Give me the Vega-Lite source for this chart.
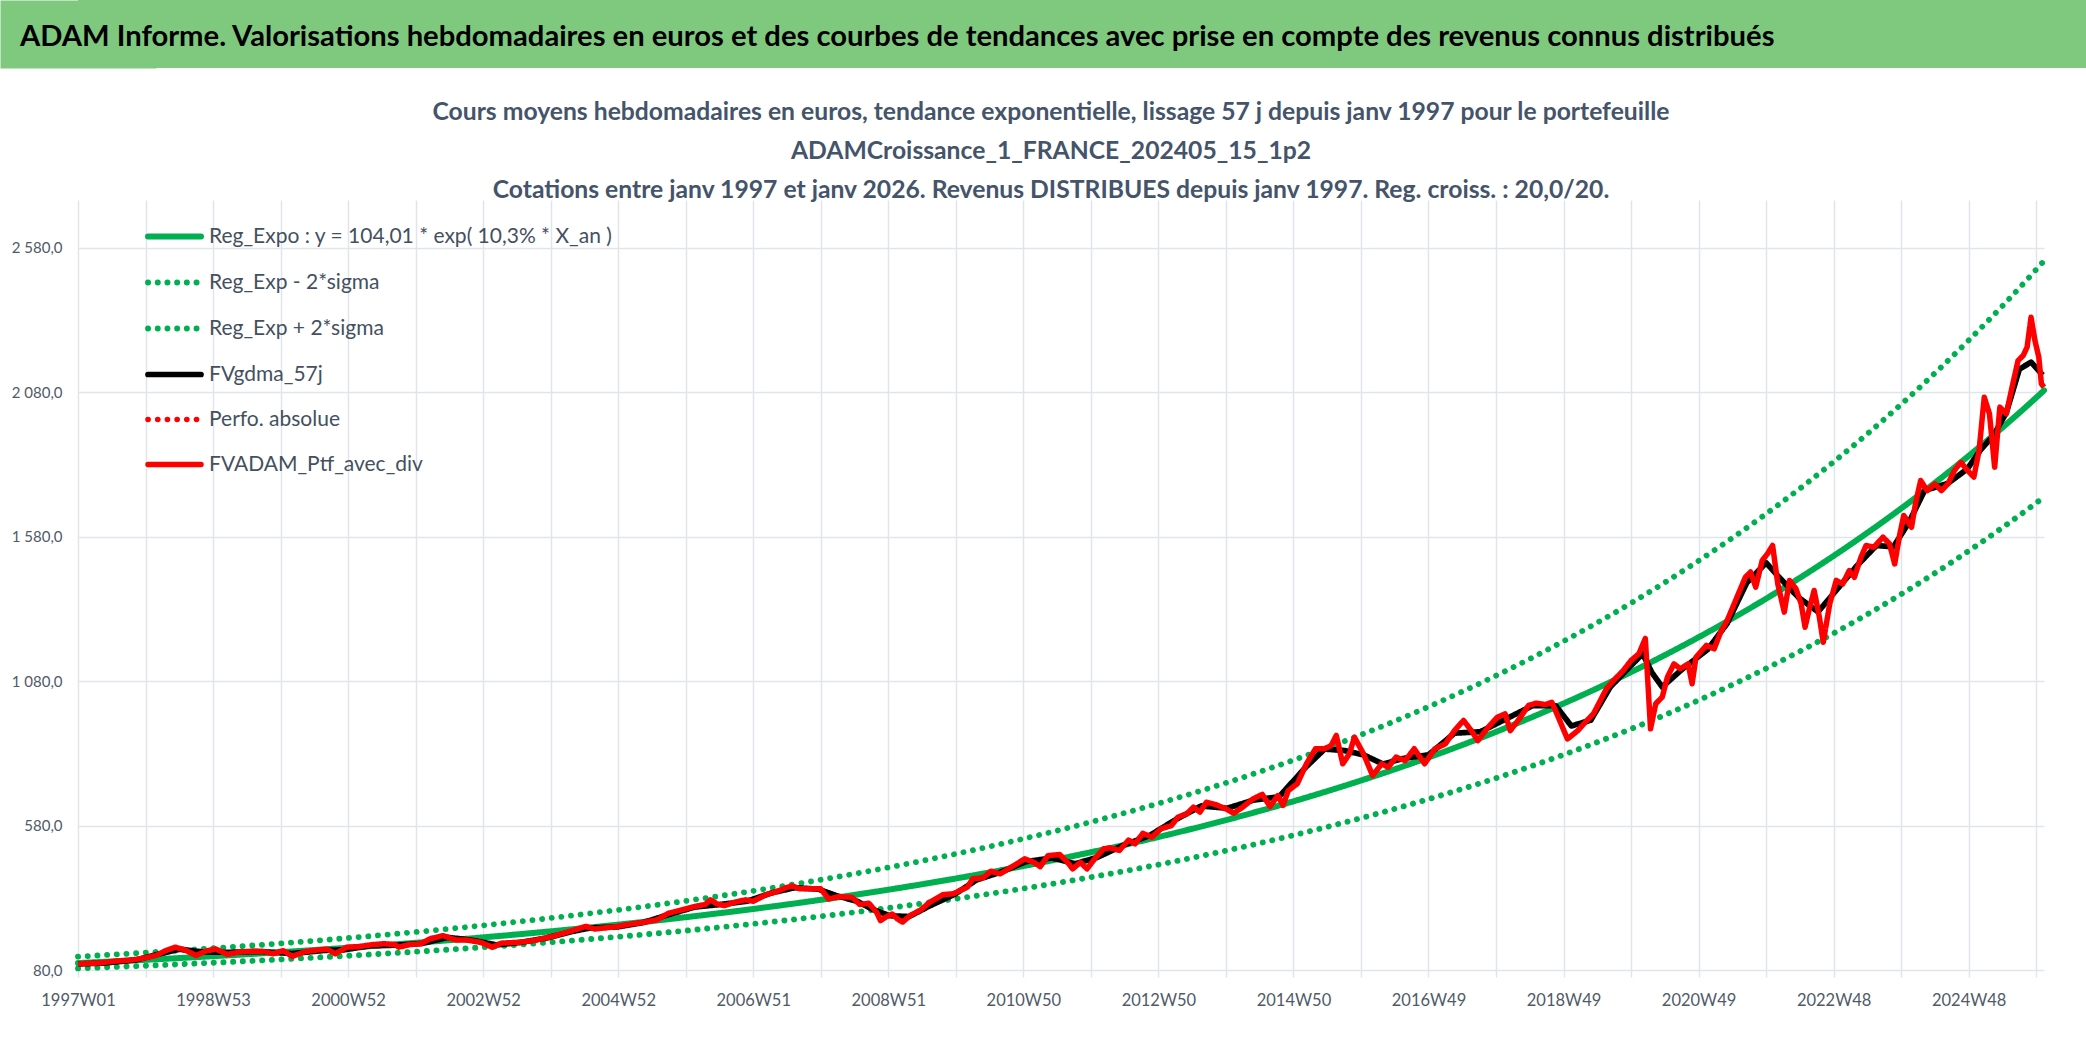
{
  "$schema": "https://vega.github.io/schema/vega-lite/v6.json",
  "description": "ADAM Informe - valorisations hebdomadaires et courbes de tendance",
  "background": "white",
  "padding": 0,
  "columns": 1,
  "spacing": 32,
  "config": {"view": {"stroke": null}, "font": "Lato"},
  "datasets": {
    "tendance": [
      {"semaine": 0, "reg": 104.01, "bas": 85.6, "haut": 126.4},
      {"semaine": 52, "reg": 115.3, "bas": 94.9, "haut": 140.1},
      {"semaine": 104, "reg": 127.8, "bas": 105.2, "haut": 155.3},
      {"semaine": 156, "reg": 141.67, "bas": 116.6, "haut": 172.1},
      {"semaine": 208, "reg": 157.04, "bas": 129.3, "haut": 190.8},
      {"semaine": 260, "reg": 174.07, "bas": 143.3, "haut": 211.5},
      {"semaine": 312, "reg": 192.95, "bas": 158.8, "haut": 234.4},
      {"semaine": 364, "reg": 213.88, "bas": 176.0, "haut": 259.9},
      {"semaine": 416, "reg": 237.08, "bas": 195.1, "haut": 288.1},
      {"semaine": 468, "reg": 262.81, "bas": 216.3, "haut": 319.3},
      {"semaine": 520, "reg": 291.34, "bas": 239.8, "haut": 354.0},
      {"semaine": 572, "reg": 322.94, "bas": 265.8, "haut": 392.4},
      {"semaine": 624, "reg": 357.98, "bas": 294.6, "haut": 434.9},
      {"semaine": 676, "reg": 396.82, "bas": 326.6, "haut": 482.1},
      {"semaine": 728, "reg": 439.87, "bas": 362.0, "haut": 534.4},
      {"semaine": 780, "reg": 487.58, "bas": 401.3, "haut": 592.4},
      {"semaine": 832, "reg": 540.48, "bas": 444.8, "haut": 656.7},
      {"semaine": 884, "reg": 599.11, "bas": 493.1, "haut": 727.9},
      {"semaine": 936, "reg": 664.11, "bas": 546.6, "haut": 806.9},
      {"semaine": 988, "reg": 736.15, "bas": 605.9, "haut": 894.4},
      {"semaine": 1040, "reg": 816.06, "bas": 671.7, "haut": 991.5},
      {"semaine": 1092, "reg": 904.59, "bas": 744.5, "haut": 1099.1},
      {"semaine": 1144, "reg": 1002.76, "bas": 825.3, "haut": 1218.4},
      {"semaine": 1196, "reg": 1111.52, "bas": 914.8, "haut": 1350.5},
      {"semaine": 1248, "reg": 1232.15, "bas": 1014.1, "haut": 1497.0},
      {"semaine": 1300, "reg": 1365.79, "bas": 1124.1, "haut": 1659.4},
      {"semaine": 1352, "reg": 1513.94, "bas": 1246.0, "haut": 1839.4},
      {"semaine": 1404, "reg": 1678.19, "bas": 1381.2, "haut": 2039.0},
      {"semaine": 1456, "reg": 1860.24, "bas": 1531.1, "haut": 2260.2},
      {"semaine": 1508, "reg": 2062.04, "bas": 1697.2, "haut": 2505.4},
      {"semaine": 1514, "reg": 2086.9, "bas": 1717.6, "haut": 2535.6}
    ],
    "lisse": [
      {"semaine": 0, "lisse": 101}, {"semaine": 20, "lisse": 104}, {"semaine": 45, "lisse": 115},
      {"semaine": 65, "lisse": 138}, {"semaine": 78, "lisse": 152}, {"semaine": 95, "lisse": 143},
      {"semaine": 115, "lisse": 141}, {"semaine": 140, "lisse": 144}, {"semaine": 165, "lisse": 137},
      {"semaine": 190, "lisse": 148}, {"semaine": 205, "lisse": 150}, {"semaine": 225, "lisse": 164},
      {"semaine": 245, "lisse": 166}, {"semaine": 265, "lisse": 172}, {"semaine": 285, "lisse": 193},
      {"semaine": 305, "lisse": 182}, {"semaine": 322, "lisse": 167}, {"semaine": 340, "lisse": 175},
      {"semaine": 360, "lisse": 190}, {"semaine": 380, "lisse": 213}, {"semaine": 395, "lisse": 226},
      {"semaine": 415, "lisse": 229}, {"semaine": 435, "lisse": 244}, {"semaine": 455, "lisse": 272},
      {"semaine": 475, "lisse": 298}, {"semaine": 495, "lisse": 307}, {"semaine": 515, "lisse": 318},
      {"semaine": 535, "lisse": 348}, {"semaine": 552, "lisse": 365}, {"semaine": 570, "lisse": 360},
      {"semaine": 585, "lisse": 336}, {"semaine": 600, "lisse": 318}, {"semaine": 612, "lisse": 290},
      {"semaine": 625, "lisse": 268}, {"semaine": 640, "lisse": 265}, {"semaine": 655, "lisse": 300},
      {"semaine": 675, "lisse": 342}, {"semaine": 692, "lisse": 392}, {"semaine": 710, "lisse": 418},
      {"semaine": 730, "lisse": 455}, {"semaine": 750, "lisse": 468}, {"semaine": 768, "lisse": 448},
      {"semaine": 785, "lisse": 470}, {"semaine": 805, "lisse": 512}, {"semaine": 825, "lisse": 545},
      {"semaine": 845, "lisse": 600}, {"semaine": 865, "lisse": 648}, {"semaine": 885, "lisse": 640},
      {"semaine": 905, "lisse": 668}, {"semaine": 925, "lisse": 680}, {"semaine": 945, "lisse": 780},
      {"semaine": 960, "lisse": 845}, {"semaine": 975, "lisse": 840}, {"semaine": 990, "lisse": 825},
      {"semaine": 1005, "lisse": 793}, {"semaine": 1020, "lisse": 812}, {"semaine": 1040, "lisse": 825},
      {"semaine": 1060, "lisse": 900}, {"semaine": 1080, "lisse": 905}, {"semaine": 1100, "lisse": 950},
      {"semaine": 1120, "lisse": 995}, {"semaine": 1138, "lisse": 995}, {"semaine": 1150, "lisse": 925},
      {"semaine": 1165, "lisse": 945}, {"semaine": 1180, "lisse": 1060}, {"semaine": 1195, "lisse": 1130},
      {"semaine": 1205, "lisse": 1175}, {"semaine": 1212, "lisse": 1110}, {"semaine": 1220, "lisse": 1060},
      {"semaine": 1235, "lisse": 1120}, {"semaine": 1255, "lisse": 1190}, {"semaine": 1270, "lisse": 1280},
      {"semaine": 1285, "lisse": 1420}, {"semaine": 1300, "lisse": 1490}, {"semaine": 1310, "lisse": 1440},
      {"semaine": 1325, "lisse": 1370}, {"semaine": 1340, "lisse": 1320}, {"semaine": 1355, "lisse": 1400},
      {"semaine": 1370, "lisse": 1480}, {"semaine": 1385, "lisse": 1550}, {"semaine": 1398, "lisse": 1545},
      {"semaine": 1410, "lisse": 1630}, {"semaine": 1422, "lisse": 1740}, {"semaine": 1440, "lisse": 1765},
      {"semaine": 1455, "lisse": 1815}, {"semaine": 1465, "lisse": 1880}, {"semaine": 1475, "lisse": 1930},
      {"semaine": 1485, "lisse": 2010}, {"semaine": 1495, "lisse": 2160}, {"semaine": 1504, "lisse": 2185},
      {"semaine": 1513, "lisse": 2140}
    ],
    "ptf": [
      {"semaine": 0, "ptf": 101}, {"semaine": 8, "ptf": 103}, {"semaine": 16, "ptf": 104}, {"semaine": 29, "ptf": 111},
      {"semaine": 42, "ptf": 115}, {"semaine": 49, "ptf": 120}, {"semaine": 60, "ptf": 130}, {"semaine": 68, "ptf": 148},
      {"semaine": 75, "ptf": 159}, {"semaine": 82, "ptf": 150}, {"semaine": 91, "ptf": 130}, {"semaine": 98, "ptf": 145},
      {"semaine": 106, "ptf": 153}, {"semaine": 115, "ptf": 134}, {"semaine": 124, "ptf": 142}, {"semaine": 134, "ptf": 145},
      {"semaine": 143, "ptf": 144}, {"semaine": 150, "ptf": 136}, {"semaine": 158, "ptf": 147}, {"semaine": 165, "ptf": 127},
      {"semaine": 175, "ptf": 144}, {"semaine": 186, "ptf": 150}, {"semaine": 192, "ptf": 152}, {"semaine": 198, "ptf": 136},
      {"semaine": 207, "ptf": 159}, {"semaine": 216, "ptf": 161}, {"semaine": 227, "ptf": 168}, {"semaine": 236, "ptf": 171},
      {"semaine": 244, "ptf": 168}, {"semaine": 247, "ptf": 159}, {"semaine": 255, "ptf": 168}, {"semaine": 264, "ptf": 171},
      {"semaine": 271, "ptf": 188}, {"semaine": 281, "ptf": 199}, {"semaine": 291, "ptf": 184}, {"semaine": 299, "ptf": 184},
      {"semaine": 310, "ptf": 176}, {"semaine": 319, "ptf": 159}, {"semaine": 326, "ptf": 173}, {"semaine": 340, "ptf": 176},
      {"semaine": 351, "ptf": 182}, {"semaine": 365, "ptf": 196}, {"semaine": 379, "ptf": 214}, {"semaine": 391, "ptf": 231},
      {"semaine": 398, "ptf": 222}, {"semaine": 406, "ptf": 226}, {"semaine": 413, "ptf": 229}, {"semaine": 424, "ptf": 238},
      {"semaine": 437, "ptf": 246}, {"semaine": 446, "ptf": 254}, {"semaine": 455, "ptf": 277}, {"semaine": 465, "ptf": 288},
      {"semaine": 475, "ptf": 300}, {"semaine": 483, "ptf": 307}, {"semaine": 487, "ptf": 323}, {"semaine": 492, "ptf": 309},
      {"semaine": 498, "ptf": 303}, {"semaine": 506, "ptf": 315}, {"semaine": 514, "ptf": 323}, {"semaine": 520, "ptf": 318},
      {"semaine": 530, "ptf": 341}, {"semaine": 539, "ptf": 353}, {"semaine": 545, "ptf": 365}, {"semaine": 550, "ptf": 371},
      {"semaine": 556, "ptf": 361}, {"semaine": 564, "ptf": 361}, {"semaine": 572, "ptf": 361}, {"semaine": 578, "ptf": 326},
      {"semaine": 586, "ptf": 334}, {"semaine": 596, "ptf": 332}, {"semaine": 602, "ptf": 307}, {"semaine": 609, "ptf": 311},
      {"semaine": 615, "ptf": 280}, {"semaine": 618, "ptf": 251}, {"semaine": 622, "ptf": 263}, {"semaine": 627, "ptf": 274},
      {"semaine": 631, "ptf": 257}, {"semaine": 635, "ptf": 246}, {"semaine": 641, "ptf": 269}, {"semaine": 649, "ptf": 288},
      {"semaine": 656, "ptf": 315}, {"semaine": 666, "ptf": 341}, {"semaine": 674, "ptf": 344}, {"semaine": 685, "ptf": 367},
      {"semaine": 689, "ptf": 396}, {"semaine": 697, "ptf": 399}, {"semaine": 703, "ptf": 422}, {"semaine": 710, "ptf": 413},
      {"semaine": 721, "ptf": 442}, {"semaine": 729, "ptf": 465}, {"semaine": 736, "ptf": 453}, {"semaine": 741, "ptf": 438},
      {"semaine": 747, "ptf": 476}, {"semaine": 756, "ptf": 480}, {"semaine": 762, "ptf": 453}, {"semaine": 766, "ptf": 430},
      {"semaine": 772, "ptf": 453}, {"semaine": 777, "ptf": 430}, {"semaine": 784, "ptf": 471}, {"semaine": 790, "ptf": 500},
      {"semaine": 795, "ptf": 503}, {"semaine": 802, "ptf": 494}, {"semaine": 809, "ptf": 530}, {"semaine": 814, "ptf": 517},
      {"semaine": 820, "ptf": 553}, {"semaine": 827, "ptf": 540}, {"semaine": 834, "ptf": 569}, {"semaine": 842, "ptf": 580},
      {"semaine": 847, "ptf": 609}, {"semaine": 854, "ptf": 621}, {"semaine": 859, "ptf": 644}, {"semaine": 864, "ptf": 627},
      {"semaine": 869, "ptf": 661}, {"semaine": 876, "ptf": 653}, {"semaine": 884, "ptf": 638}, {"semaine": 890, "ptf": 623},
      {"semaine": 897, "ptf": 644}, {"semaine": 905, "ptf": 673}, {"semaine": 912, "ptf": 688}, {"semaine": 918, "ptf": 646},
      {"semaine": 924, "ptf": 684}, {"semaine": 928, "ptf": 650}, {"semaine": 932, "ptf": 701}, {"semaine": 939, "ptf": 725},
      {"semaine": 946, "ptf": 794}, {"semaine": 953, "ptf": 846}, {"semaine": 960, "ptf": 846}, {"semaine": 965, "ptf": 857},
      {"semaine": 969, "ptf": 892}, {"semaine": 974, "ptf": 794}, {"semaine": 979, "ptf": 828}, {"semaine": 983, "ptf": 886},
      {"semaine": 990, "ptf": 828}, {"semaine": 997, "ptf": 753}, {"semaine": 1004, "ptf": 794}, {"semaine": 1009, "ptf": 782},
      {"semaine": 1015, "ptf": 817}, {"semaine": 1022, "ptf": 805}, {"semaine": 1029, "ptf": 846}, {"semaine": 1037, "ptf": 794},
      {"semaine": 1045, "ptf": 846}, {"semaine": 1053, "ptf": 863}, {"semaine": 1060, "ptf": 909}, {"semaine": 1067, "ptf": 944},
      {"semaine": 1073, "ptf": 909}, {"semaine": 1078, "ptf": 874}, {"semaine": 1086, "ptf": 921}, {"semaine": 1093, "ptf": 955},
      {"semaine": 1099, "ptf": 967}, {"semaine": 1103, "ptf": 909}, {"semaine": 1110, "ptf": 950}, {"semaine": 1117, "ptf": 996},
      {"semaine": 1123, "ptf": 1004}, {"semaine": 1130, "ptf": 999}, {"semaine": 1135, "ptf": 1007}, {"semaine": 1140, "ptf": 955},
      {"semaine": 1147, "ptf": 880}, {"semaine": 1155, "ptf": 909}, {"semaine": 1162, "ptf": 944}, {"semaine": 1167, "ptf": 967},
      {"semaine": 1172, "ptf": 1010}, {"semaine": 1177, "ptf": 1054}, {"semaine": 1183, "ptf": 1085}, {"semaine": 1190, "ptf": 1117},
      {"semaine": 1196, "ptf": 1152}, {"semaine": 1202, "ptf": 1175}, {"semaine": 1207, "ptf": 1228}, {"semaine": 1211, "ptf": 915},
      {"semaine": 1215, "ptf": 1002}, {"semaine": 1220, "ptf": 1025}, {"semaine": 1224, "ptf": 1094}, {"semaine": 1229, "ptf": 1140},
      {"semaine": 1234, "ptf": 1123}, {"semaine": 1240, "ptf": 1140}, {"semaine": 1243, "ptf": 1071}, {"semaine": 1246, "ptf": 1163},
      {"semaine": 1254, "ptf": 1204}, {"semaine": 1260, "ptf": 1192}, {"semaine": 1265, "ptf": 1250}, {"semaine": 1270, "ptf": 1290},
      {"semaine": 1277, "ptf": 1365}, {"semaine": 1284, "ptf": 1440}, {"semaine": 1288, "ptf": 1458}, {"semaine": 1292, "ptf": 1406},
      {"semaine": 1297, "ptf": 1498}, {"semaine": 1301, "ptf": 1521}, {"semaine": 1305, "ptf": 1550}, {"semaine": 1309, "ptf": 1417},
      {"semaine": 1314, "ptf": 1319}, {"semaine": 1318, "ptf": 1429}, {"semaine": 1323, "ptf": 1400}, {"semaine": 1327, "ptf": 1348},
      {"semaine": 1330, "ptf": 1267}, {"semaine": 1333, "ptf": 1325}, {"semaine": 1337, "ptf": 1394}, {"semaine": 1341, "ptf": 1302},
      {"semaine": 1344, "ptf": 1215}, {"semaine": 1349, "ptf": 1348}, {"semaine": 1354, "ptf": 1429}, {"semaine": 1359, "ptf": 1417},
      {"semaine": 1364, "ptf": 1463}, {"semaine": 1368, "ptf": 1440}, {"semaine": 1373, "ptf": 1509}, {"semaine": 1377, "ptf": 1550},
      {"semaine": 1383, "ptf": 1544}, {"semaine": 1390, "ptf": 1579}, {"semaine": 1395, "ptf": 1556}, {"semaine": 1399, "ptf": 1486},
      {"semaine": 1403, "ptf": 1590}, {"semaine": 1406, "ptf": 1654}, {"semaine": 1412, "ptf": 1613}, {"semaine": 1415, "ptf": 1694},
      {"semaine": 1419, "ptf": 1775}, {"semaine": 1424, "ptf": 1740}, {"semaine": 1430, "ptf": 1763}, {"semaine": 1435, "ptf": 1740},
      {"semaine": 1440, "ptf": 1763}, {"semaine": 1445, "ptf": 1810}, {"semaine": 1450, "ptf": 1838}, {"semaine": 1455, "ptf": 1810},
      {"semaine": 1460, "ptf": 1787}, {"semaine": 1464, "ptf": 1879}, {"semaine": 1468, "ptf": 2063}, {"semaine": 1472, "ptf": 2006},
      {"semaine": 1476, "ptf": 1821}, {"semaine": 1480, "ptf": 2029}, {"semaine": 1485, "ptf": 2006}, {"semaine": 1490, "ptf": 2110},
      {"semaine": 1494, "ptf": 2190}, {"semaine": 1498, "ptf": 2208}, {"semaine": 1501, "ptf": 2237}, {"semaine": 1504, "ptf": 2340},
      {"semaine": 1507, "ptf": 2260}, {"semaine": 1510, "ptf": 2202}, {"semaine": 1512, "ptf": 2110}, {"semaine": 1514, "ptf": 2098}
    ]
  },
  "concat": [
    {
      "width": 2008,
      "height": 68,
      "view": {"fill": "#7fc97f", "stroke": null},
      "data": {"values": [{"bandeau": "ADAM Informe. Valorisations hebdomadaires en euros et des courbes de tendances avec prise en compte des revenus connus distribués"}]},
      "mark": {
        "type": "text",
        "align": "left",
        "baseline": "middle",
        "dx": -58,
        "dy": 3,
        "font": "Lato",
        "fontSize": 29.2,
        "fontWeight": "bold",
        "color": "#000000"
      },
      "encoding": {
        "text": {"field": "bandeau", "type": "nominal"},
        "x": {
          "field": "bandeau",
          "type": "nominal",
          "scale": {"type": "point", "padding": 0, "align": 0},
          "axis": null
        },
        "y": {
          "field": "bandeau",
          "type": "nominal",
          "scale": {"type": "point", "padding": 0.5},
          "axis": {
            "title": null,
            "labels": false,
            "ticks": false,
            "grid": false,
            "domain": true,
            "domainColor": "#7fc97f",
            "domainWidth": 156,
            "minExtent": 78,
            "maxExtent": 78,
            "zindex": 0
          }
        }
      }
    },
    {
      "width": 1966,
      "height": 770,
      "title": {
        "text": [
          "Cours moyens hebdomadaires en euros, tendance exponentielle, lissage 57 j depuis janv 1997 pour le portefeuille",
          "ADAMCroissance_1_FRANCE_202405_15_1p2",
          "Cotations entre janv 1997 et janv 2026. Revenus DISTRIBUES depuis janv 1997. Reg. croiss. : 20,0/20."
        ],
        "anchor": "middle",
        "frame": "group",
        "offset": 2,
        "dy": 5,
        "lineHeight": 39,
        "dx": -10,
        "font": "Lato",
        "fontSize": 24.7,
        "fontWeight": "bold",
        "color": "#44546a"
      },
      "layer": [
        {
          "data": {"name": "tendance"},
          "transform": [{"fold": ["reg", "bas", "haut"], "as": ["serie", "valeur"]}],
          "mark": {"type": "line", "interpolate": "monotone", "strokeCap": "round"},
          "encoding": {
            "x": {
              "field": "semaine",
              "type": "quantitative",
              "scale": {"domain": [0, 1514], "nice": false, "zero": false},
              "axis": {
                "title": null,
                "values": [0, 52, 104, 156, 208, 260, 312, 364, 416, 468, 520, 572, 624, 676, 728, 780, 832, 884, 936, 988, 1040, 1092, 1144, 1196, 1248, 1300, 1352, 1404, 1456, 1508],
                "labelExpr": "datum.value % 104 === 0 ? utcFormat(utc(1996, 11, 30) + datum.value * 604800000, '%GW%V') : ''",
                "grid": true,
                "gridColor": "#e1e5ea",
                "gridWidth": 1.5,
                "ticks": true,
                "tickSize": 7,
                "tickColor": "#e1e5ea",
                "tickWidth": 1.5,
                "domain": false,
                "labelAngle": 0,
                "labelFlush": false,
                "labelOverlap": false,
                "labelFont": "Lato",
                "labelFontSize": 16.5,
                "labelColor": "#505a68",
                "labelPadding": 15
              }
            },
            "y": {
              "field": "valeur",
              "type": "quantitative",
              "scale": {"domain": [80, 2746.2], "nice": false, "zero": false},
              "axis": {
                "title": null,
                "values": [80, 580, 1080, 1580, 2080, 2580],
                "labelExpr": "replace(replace(format(datum.value, ',.1f'), ',', ' '), '.', ',')",
                "grid": true,
                "gridColor": "#e1e5ea",
                "gridWidth": 1.5,
                "ticks": false,
                "domain": false,
                "labelFont": "Lato",
                "labelFontSize": 15,
                "labelColor": "#505a68",
                "labelPadding": 16,
                "minExtent": 78,
                "maxExtent": 78
              }
            },
            "color": {
              "field": "serie",
              "type": "nominal",
              "scale": {
                "domain": ["reg", "bas", "haut", "lisse", "perfo", "ptf"],
                "range": ["#00b050", "#00b050", "#00b050", "#000000", "#ff0000", "#ff0000"]
              },
              "legend": {
                "title": null,
                "orient": "none",
                "legendX": 67,
                "legendY": 207,
                "direction": "vertical",
                "symbolType": "stroke",
                "symbolSize": 2809,
                "labelFont": "Lato",
                "labelFontSize": 21,
                "labelColor": "#44505f",
                "labelOffset": 5,
                "labelLimit": 0,
                "rowPadding": 4,
                "padding": 0,
                "labelExpr": "datum.label == 'reg' ? 'Reg_Expo : y = 104,01 * exp( 10,3% *  X_an )' : datum.label == 'bas' ? 'Reg_Exp - 2*sigma' : datum.label == 'haut' ? 'Reg_Exp + 2*sigma' : datum.label == 'lisse' ? 'FVgdma_57j' : datum.label == 'perfo' ? 'Perfo. absolue' : 'FVADAM_Ptf_avec_div'",
                "encode": {"symbols": {"update": {"strokeCap": {"value": "round"}}}}
              }
            },
            "strokeDash": {
              "field": "serie",
              "type": "nominal",
              "scale": {
                "domain": ["reg", "bas", "haut", "lisse", "perfo", "ptf"],
                "range": [[1, 0], [0.1, 9.6], [0.1, 9.6], [1, 0], [0.1, 9.6], [1, 0]]
              }
            },
            "strokeWidth": {
              "field": "serie",
              "type": "nominal",
              "scale": {
                "domain": ["reg", "bas", "haut", "lisse", "perfo", "ptf"],
                "range": [6, 5.5, 5.5, 4.5, 5, 5.5]
              }
            }
          }
        },
        {
          "data": {"name": "lisse"},
          "transform": [{"fold": ["lisse"], "as": ["serie", "valeur"]}],
          "mark": {"type": "line", "strokeJoin": "round"},
          "encoding": {
            "x": {"field": "semaine", "type": "quantitative"},
            "y": {"field": "valeur", "type": "quantitative"},
            "color": {"field": "serie", "type": "nominal"},
            "strokeDash": {"field": "serie", "type": "nominal"},
            "strokeWidth": {"field": "serie", "type": "nominal"}
          }
        },
        {
          "data": {"name": "ptf"},
          "transform": [{"fold": ["ptf"], "as": ["serie", "valeur"]}],
          "mark": {"type": "line", "strokeJoin": "round"},
          "encoding": {
            "x": {"field": "semaine", "type": "quantitative"},
            "y": {"field": "valeur", "type": "quantitative"},
            "color": {"field": "serie", "type": "nominal"},
            "strokeDash": {"field": "serie", "type": "nominal"},
            "strokeWidth": {"field": "serie", "type": "nominal"}
          }
        }
      ]
    }
  ]
}
